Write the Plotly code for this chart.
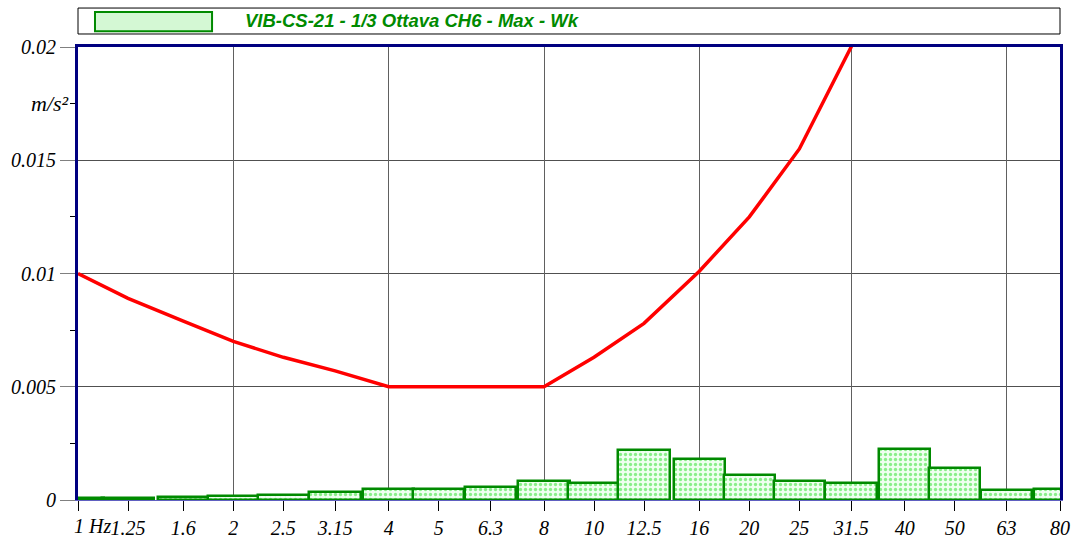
import numpy as np
import plotly.graph_objects as go

# 1/3 octave bands (Hz) and labels
freqs = [1, 1.25, 1.6, 2, 2.5, 3.15, 4, 5, 6.3, 8, 10, 12.5, 16, 20, 25, 31.5, 40, 50, 63, 80]
freq_labels = ['1', '1.25', '1.6', '2', '2.5', '3.15', '4', '5', '6.3', '8', '10',
               '12.5', '16', '20', '25', '31.5', '40', '50', '63', '80']
octave_grid = [2, 4, 8, 16, 31.5, 63]

# measured max acceleration per band (m/s2)
band_max = [0.0001, 0.0001, 0.00015, 0.00016, 0.00022, 0.00037, 0.00048, 0.00049, 0.00058, 0.00082,
            0.00077, 0.00222, 0.00182, 0.0011, 0.00083, 0.00077, 0.00225, 0.0014, 0.00042, 0.00048]
# Wk limit curve (m/s2)
limit = [0.01, 0.0089, 0.0079, 0.007, 0.0063, 0.0057, 0.005, 0.005, 0.005, 0.005,
         0.0063, 0.0078, 0.0101, 0.0125, 0.0155, 0.02, 0.025, 0.0315, 0.04, 0.05]

y_ticks = [0, 0.005, 0.01, 0.015, 0.02]
y_ticktext = ['0', '0.005', '0.01', '0.015', '0.02']
y_minor = [0.0025, 0.0075, 0.0125, 0.0175]

title_text = 'VIB-CS-21 - 1/3 Ottava CH6 - Max - Wk'

# frequency axis is logarithmic: plot against log10(f)
logf = np.log10(freqs)
xrange = [0, np.log10(80)]
serif = dict(family='Liberation Serif, Times New Roman, serif', size=20, color='black', style='italic')

fig = go.Figure()
fig.add_trace(go.Bar(
    x=logf, y=band_max, width=0.1, name=title_text,
    marker=dict(color='#effff0', line=dict(color='#008a00', width=2.5),
                pattern=dict(shape='.', fgcolor='#22e022', bgcolor='#effff0', size=5, solidity=0.35)),
))
fig.add_trace(go.Scatter(
    x=logf, y=limit, mode='lines', xaxis='x2',
    line=dict(color='#ff0000', width=3.5), showlegend=False,
))

fig.update_layout(
    width=1073, height=540,
    margin=dict(l=78, r=13, t=47, b=40, autoexpand=False),
    plot_bgcolor='white', paper_bgcolor='white',
    showlegend=False, bargap=0,
    xaxis=dict(range=xrange, tickvals=logf, ticktext=[''] + freq_labels[1:],
               ticks='outside', ticklen=10, tickcolor='black', tickfont=serif,
               ticklabeloverflow='allow',
               showgrid=False, zeroline=False, showline=True, linecolor='#6060c0', linewidth=1),
    xaxis2=dict(range=xrange, overlaying='x', side='top', anchor='y',
                tickvals=np.log10(octave_grid), showticklabels=False, ticks='',
                showgrid=True, gridcolor='#606060', gridwidth=1, zeroline=False,
                showline=True, linecolor='#000080', linewidth=3),
    yaxis=dict(range=[0, 0.02], tickvals=y_ticks, ticktext=y_ticktext, tickfont=serif,
               ticks='outside', ticklen=15, tickcolor='#808080',
               minor=dict(tickvals=y_minor, ticks='outside', ticklen=5, tickcolor='black'),
               showgrid=True, gridcolor='#505050', gridwidth=1, zeroline=False,
               showline=True, linecolor='#000080', linewidth=3, mirror=True),
)

# unit labels
fig.add_annotation(x=0, xref='x', y=0, yref='paper', yanchor='top', yshift=-13, xshift=-6, xanchor='left',
                   text='1 Hz', showarrow=False, font=serif)
fig.add_annotation(x=0, xref='paper', y=0.0175, yref='y', xanchor='right', xshift=-7,
                   text='m/s²', showarrow=False,
                   font=dict(family='Liberation Serif, serif', size=22, color='black', style='italic'))

# legend box drawn above the plot
fig.add_shape(type='rect', xref='paper', yref='paper', x0=0, x1=1, y0=1.0287, y1=1.086,
              line=dict(color='black', width=1), fillcolor='white')
fig.add_shape(type='rect', xref='paper', yref='paper', x0=0.0173, x1=0.1365, y0=1.035, y1=1.077,
              line=dict(color='#008a00', width=2), fillcolor='#d4f8d4')
fig.add_annotation(x=0.168, xref='paper', y=1.058, yref='paper', xanchor='left', yanchor='middle',
                   text=title_text, showarrow=False,
                   font=dict(family='Liberation Sans, Arial, sans-serif', size=18.5, color='#008a00',
                             weight='bold', style='italic'))

# drop the default page margin so the figure fills the window exactly
fig.write_html('out.html', config={'displayModeBar': False},
               post_script="document.body.style.margin='0';")
